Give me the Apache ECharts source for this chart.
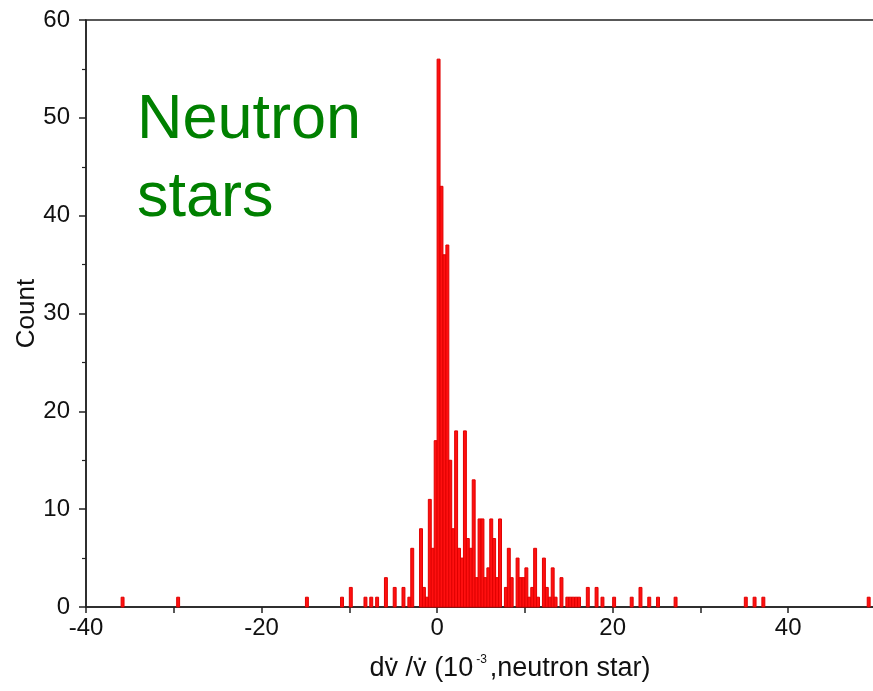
<!DOCTYPE html>
<html>
<head>
<meta charset="utf-8">
<script src="https://cdn.jsdelivr.net/npm/echarts@6/dist/echarts.min.js"></script>
<style>
html,body{margin:0;padding:0;background:#fff;}
#chart{width:873px;height:691px;}
</style>
</head>
<body>
<div id="chart"></div>
<script>
// Histogram bins: left edge of each bin (units of 10^-3) and its count
const BIN_WIDTH = 0.3333;
const binLeft = [
  -36, -29.67, -15, -11, -10, -8.33, -7.67, -7, -6, -5, -4, -3.33, -3,
  -2, -1.67, -1.33, -1, -0.67, -0.33,
  0, 0.33, 0.67, 1, 1.33, 1.67, 2, 2.33, 2.67, 3, 3.33, 3.67,
  4, 4.33, 4.67, 5, 5.33, 5.67, 6, 6.33, 6.67, 7, 7.67,
  8, 8.33, 9, 9.33, 9.67, 10, 10.33, 10.67, 11, 11.33,
  12, 12.33, 12.67, 13, 13.33, 14, 14.67, 15, 15.33, 15.67, 16,
  17, 18, 18.67, 20, 22, 23, 24, 25, 27, 35, 36, 37, 49
];
const binCount = [
  1, 1, 1, 1, 2, 1, 1, 1, 3, 2, 2, 1, 6,
  8, 2, 1, 11, 6, 17,
  56, 43, 36, 37, 15, 8, 18, 6, 5, 18, 7, 6,
  13, 3, 9, 9, 3, 4, 9, 7, 3, 9, 2,
  6, 3, 5, 3, 3, 4, 1, 2, 6, 1,
  5, 2, 1, 4, 1, 3, 1, 1, 1, 1, 1,
  2, 2, 1, 1, 1, 2, 1, 1, 1, 1, 1, 1, 1
];
const xTickLabels = [-40, -20, 0, 20, 40];
const xTickMarks = [-40, -30, -20, -10, 0, 10, 20, 30, 40];
const yMax = 60;
const yInterval = 10;

const data = binLeft.map((x, i) => [x, binCount[i]]);

const chart = echarts.init(document.getElementById('chart'), null, {renderer: 'canvas'});
const FONT = '"Liberation Sans", Arial, sans-serif';

chart.setOption({
  animation: false,
  backgroundColor: '#ffffff',
  grid: {
    left: 86, top: 20, right: -3, bottom: 84,
    containLabel: false, outerBoundsMode: 'none',
    show: true, borderColor: '#222', borderWidth: 1.5, backgroundColor: 'transparent'
  },
  xAxis: {
    type: 'value', min: -40, max: 50, interval: 20,
    axisLine: {onZero: false, lineStyle: {color: '#222', width: 1.5}},
    axisTick: {show: true, customValues: xTickMarks, length: 6, lineStyle: {color: '#222', width: 1.5}},
    axisLabel: {customValues: xTickLabels, color: '#111', fontSize: 24, fontFamily: FONT, margin: 9},
    splitLine: {show: false}
  },
  yAxis: {
    type: 'value', min: 0, max: yMax, interval: yInterval,
    axisLine: {show: true, onZero: false, lineStyle: {color: '#222', width: 1.5}},
    axisTick: {show: true, length: 7, lineStyle: {color: '#222', width: 1.5}},
    minorTick: {show: true, splitNumber: 2, length: 4, lineStyle: {color: '#222', width: 1.2}},
    axisLabel: {color: '#111', fontSize: 24, fontFamily: FONT, margin: 16},
    splitLine: {show: false},
    name: 'Count', nameLocation: 'middle', nameGap: 46, nameRotate: 90, nameMoveOverlap: false,
    nameTextStyle: {color: '#111', fontSize: 26, fontFamily: FONT}
  },
  graphic: [
    {
      type: 'text', left: 137, top: 82, z: 10,
      style: {text: 'Neutron\nstars', fill: '#008000', font: '63px ' + FONT, lineHeight: 78}
    },
    {
      type: 'text', x: 510, y: 669, z: 10,
      style: {
        text: '{a|dv̇ /v̇ (10}{s|-3}{a|,neutron star)}',
        align: 'center', verticalAlign: 'middle',
        rich: {
          a: {fontSize: 27, fontFamily: FONT, fill: '#111'},
          s: {fontSize: 12, fontFamily: FONT, fill: '#111', padding: [0, 3, 18, 3]}
        }
      }
    }
  ],
  series: [{
    type: 'custom',
    data: data,
    encode: {x: 0, y: 1},
    renderItem: function (params, api) {
      const x0 = api.value(0);
      const c = api.value(1);
      const pTop = api.coord([x0, c]);
      const pBot = api.coord([x0 + BIN_WIDTH, 0]);
      return {
        type: 'rect',
        shape: {x: pTop[0], y: pTop[1], width: pBot[0] - pTop[0], height: pBot[1] - pTop[1]},
        style: {fill: '#ff1010', stroke: '#e00000', lineWidth: 1}
      };
    }
  }]
});
</script>
</body>
</html>
